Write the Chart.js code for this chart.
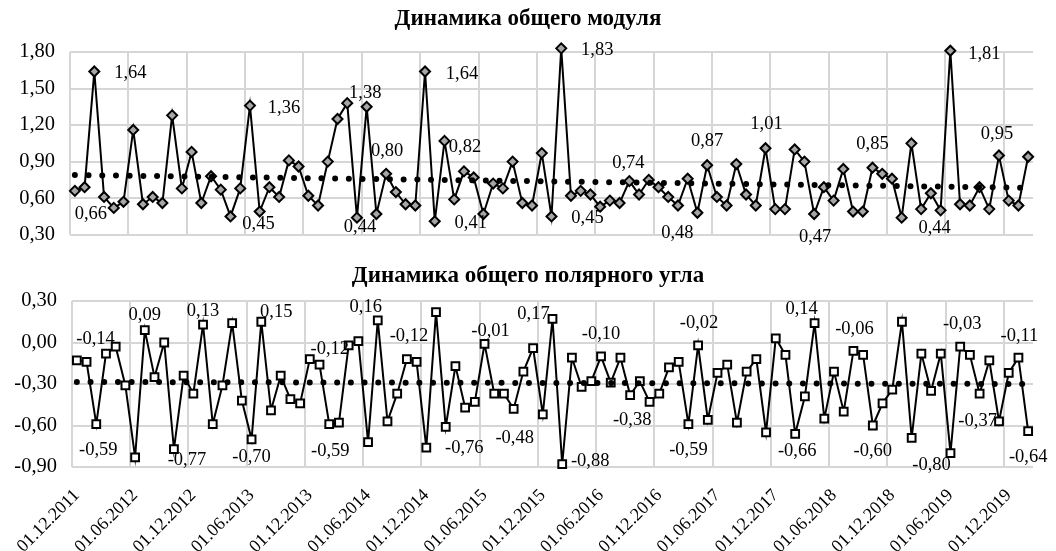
<!DOCTYPE html>
<html>
<head>
<meta charset="utf-8">
<title>Динамика общего модуля и полярного угла</title>
<script src="https://cdn.jsdelivr.net/npm/chart.js@4.4.0/dist/chart.umd.min.js"></script>
<style>
  body { margin: 0; background: #fff; overflow: hidden; }
  .panel { position: absolute; left: 0; width: 1056px; }
  #top { top: 0; height: 262px; }
  #bottom { top: 250px; height: 301px; }
  .title {
      position: absolute; left: 0; width: 1056px; text-align: center;
      font: bold 23px "Liberation Serif", "Times New Roman", serif; color: #000;
      line-height: 28px;
  }
</style>
</head>
<body>
<div class="panel" id="top"><canvas id="moduleChart"></canvas></div>
<div class="panel" id="bottom"><canvas id="angleChart"></canvas></div>
<div class="title" style="top: 4px">Динамика общего модуля</div>
<div class="title" style="top: 261px">Динамика общего полярного угла</div>
<script>
// monthly observations, 01.12.2011 .. 01.02.2020
const months = [];
for (let i = 0; i < 99; i++) {
    const m = (11 + i) % 12 + 1;
    const y = 2011 + Math.floor((11 + i) / 12);
    months.push('01.' + String(m).padStart(2, '0') + '.' + y);
}

const moduleValues = [
    0.66, 0.69, 1.64, 0.61, 0.52, 0.57, 1.16, 0.55, 0.61, 0.56,
    1.28, 0.68, 0.98, 0.56, 0.78, 0.67, 0.45, 0.68, 1.36, 0.49,
    0.69, 0.61, 0.91, 0.86, 0.62, 0.54, 0.90, 1.25, 1.38, 0.44,
    1.35, 0.47, 0.80, 0.65, 0.55, 0.54, 1.64, 0.41, 1.07, 0.59,
    0.82, 0.77, 0.47, 0.72, 0.68, 0.90, 0.56, 0.54, 0.97, 0.45,
    1.83, 0.62, 0.66, 0.63, 0.53, 0.58, 0.56, 0.74, 0.63, 0.75,
    0.69, 0.61, 0.54, 0.76, 0.48, 0.87, 0.61, 0.54, 0.88, 0.63,
    0.54, 1.01, 0.51, 0.51, 1.00, 0.90, 0.47, 0.69, 0.58, 0.84,
    0.49, 0.49, 0.85, 0.80, 0.76, 0.44, 1.05, 0.51, 0.64, 0.50,
    1.81, 0.55, 0.54, 0.69, 0.51, 0.95, 0.58, 0.54, 0.94
];
const moduleTrend = [0.79, 0.685];   // linear trend at first / last month
const moduleLabelled = [0, 2, 16, 18, 28, 29, 32, 36, 37, 40, 49, 50, 57, 64, 65, 71, 76, 82, 85, 90, 95];

const angleValues = [
    -0.13, -0.14, -0.59, -0.08, -0.03, -0.31, -0.83, 0.09, -0.25, 0.00,
    -0.77, -0.24, -0.37, 0.13, -0.59, -0.31, 0.14, -0.42, -0.70, 0.15,
    -0.49, -0.24, -0.41, -0.44, -0.12, -0.16, -0.59, -0.58, -0.02, 0.01,
    -0.72, 0.16, -0.57, -0.37, -0.12, -0.14, -0.76, 0.22, -0.61, -0.17,
    -0.47, -0.43, -0.01, -0.37, -0.37, -0.48, -0.21, -0.04, -0.52, 0.17,
    -0.88, -0.11, -0.32, -0.28, -0.10, -0.29, -0.11, -0.38, -0.28, -0.43,
    -0.37, -0.18, -0.14, -0.59, -0.02, -0.56, -0.22, -0.16, -0.58, -0.21,
    -0.12, -0.65, 0.03, -0.09, -0.66, -0.39, 0.14, -0.55, -0.21, -0.50,
    -0.06, -0.09, -0.60, -0.44, -0.34, 0.15, -0.69, -0.08, -0.35, -0.08,
    -0.80, -0.03, -0.09, -0.37, -0.13, -0.57, -0.22, -0.11, -0.64
];
const angleTrend = [-0.285, -0.30];
const angleLabelled = [1, 2, 7, 10, 13, 18, 19, 24, 26, 31, 34, 36, 42, 45, 49, 50, 54, 57, 63, 64, 74, 76, 80, 82, 90, 91, 93, 97, 98];

// where each value label sits relative to its point (px)
const moduleLabelOffsets = [
    [16, 23], [36, 2], [28, 8], [34, 3], [18, -10], [3, 9], [1, -23], [37, 3], [36, 2], [1, -24],
    [36, 2], [36, 2], [-1, -18], [-20, 20], [0, -24], [1, -24], [1, 23], [0, -24], [33, 10], [34, 3], [-2, -21]
];
const angleLabelOffsets = [
    [9, -23], [2, 26], [0, -15], [13, 11], [0, -13], [0, 18], [15, -10], [20, -10], [1, 27], [-12, -13],
    [2, -23], [38, 1], [6, -13], [1, 29], [-19, -5], [28, -3], [0, -22], [2, 25], [0, 26], [1, -22],
    [2, 17], [-13, -14], [1, -22], [0, 26], [-19, 12], [2, -23], [-2, 27], [1, -22], [0, 26]
];

const FONT = '"Liberation Serif", "Times New Roman", serif';
const GRID = '#d6d6d6';

function fmt(v) {
    if (Math.abs(v) < 1e-9) v = 0;
    return v.toFixed(2).replace('.', ',');
}

function trendData(ends) {
    return months.map((m, i) => i === 0 ? ends[0] : (i === months.length - 1 ? ends[1] : null));
}

// vertical grid line on the boundary before every sixth month
const halfYearGrid = {
    id: 'halfYearGrid',
    beforeDatasetsDraw(chart) {
        const x = chart.scales.x;
        const area = chart.chartArea;
        const step = x.getPixelForValue(1) - x.getPixelForValue(0);
        const ctx = chart.ctx;
        ctx.save();
        ctx.strokeStyle = GRID;
        ctx.lineWidth = 2;
        for (let i = 0; i < months.length; i += 6) {
            const px = Math.round(x.getPixelForValue(i) - step / 2);
            ctx.beginPath();
            ctx.moveTo(px, area.top);
            ctx.lineTo(px, area.bottom);
            ctx.stroke();
        }
        ctx.restore();
    }
};

function labelPlugin(indexes, offsets) {
    return {
        id: 'valueLabels',
        afterDatasetsDraw(chart) {
            const meta = chart.getDatasetMeta(0);
            const data = chart.data.datasets[0].data;
            const ctx = chart.ctx;
            ctx.save();
            ctx.font = '18.5px ' + FONT;
            ctx.fillStyle = '#000';
            ctx.textAlign = 'center';
            ctx.textBaseline = 'middle';
            indexes.forEach((idx, k) => {
                const pt = meta.data[idx];
                ctx.fillText(fmt(data[idx]), pt.x + offsets[k][0], pt.y + offsets[k][1]);
            });
            ctx.restore();
        }
    };
}

function makeChart(canvasId, cfg) {
    return new Chart(document.getElementById(canvasId), {
        type: 'line',
        data: {
            labels: months,
            datasets: [{
                data: cfg.values,
                borderColor: '#000',
                borderWidth: 2,
                tension: 0,
                pointStyle: cfg.pointStyle,
                pointRadius: cfg.pointRadius,
                pointBackgroundColor: cfg.pointFill,
                pointBorderColor: '#000',
                pointBorderWidth: 2,
                clip: false,
                order: 1
            }, {
                data: trendData(cfg.trend),
                spanGaps: true,
                borderColor: '#000',
                borderWidth: 6,
                borderDash: [0, 13.7],
                borderCapStyle: 'round',
                pointRadius: 0,
                order: 0
            }]
        },
        options: {
            responsive: true,
            maintainAspectRatio: false,
            animation: false,
            layout: { padding: cfg.padding },
            plugins: {
                legend: { display: false },
                tooltip: { enabled: false },
                title: { display: false }
            },
            scales: {
                x: {
                    display: cfg.showDates,
                    offset: true,
                    grid: { display: false },
                    border: { display: false },
                    ticks: {
                        autoSkip: false,
                        minRotation: 45,
                        maxRotation: 45,
                        padding: 10,
                        color: '#000',
                        font: { family: FONT, size: 18 },
                        callback: (v, i) => i % 6 === 0 ? months[i] : ''
                    },
                    afterFit: (s) => { s.height = cfg.xHeight; }
                },
                y: {
                    min: cfg.min,
                    max: cfg.max,
                    grid: { color: GRID, lineWidth: 2, drawTicks: false },
                    border: { display: false },
                    ticks: {
                        stepSize: 0.3,
                        padding: 15,
                        color: '#000',
                        font: { family: FONT, size: 20.5 },
                        callback: (v) => fmt(v)
                    },
                    afterFit: (s) => { s.width = cfg.yWidth; }
                }
            }
        },
        plugins: [halfYearGrid, labelPlugin(cfg.labelled, cfg.offsets)]
    });
}

makeChart('moduleChart', {
    values: moduleValues,
    trend: moduleTrend,
    labelled: moduleLabelled,
    offsets: moduleLabelOffsets,
    pointStyle: 'rectRot',
    pointRadius: 5,
    pointFill: '#a6a6a6',
    min: 0.3,
    max: 1.8,
    showDates: false,
    xHeight: 0,
    yWidth: 70,
    padding: { left: 0, right: 23, top: 52, bottom: 6 }
});

makeChart('angleChart', {
    values: angleValues,
    trend: angleTrend,
    labelled: angleLabelled,
    offsets: angleLabelOffsets,
    pointStyle: 'rect',
    pointRadius: 5.5,
    pointFill: '#fff',
    min: -0.9,
    max: 0.3,
    showDates: true,
    xHeight: 84,
    yWidth: 72,
    padding: { left: 0, right: 23, top: 51, bottom: 0 }
});
</script>
</body>
</html>
